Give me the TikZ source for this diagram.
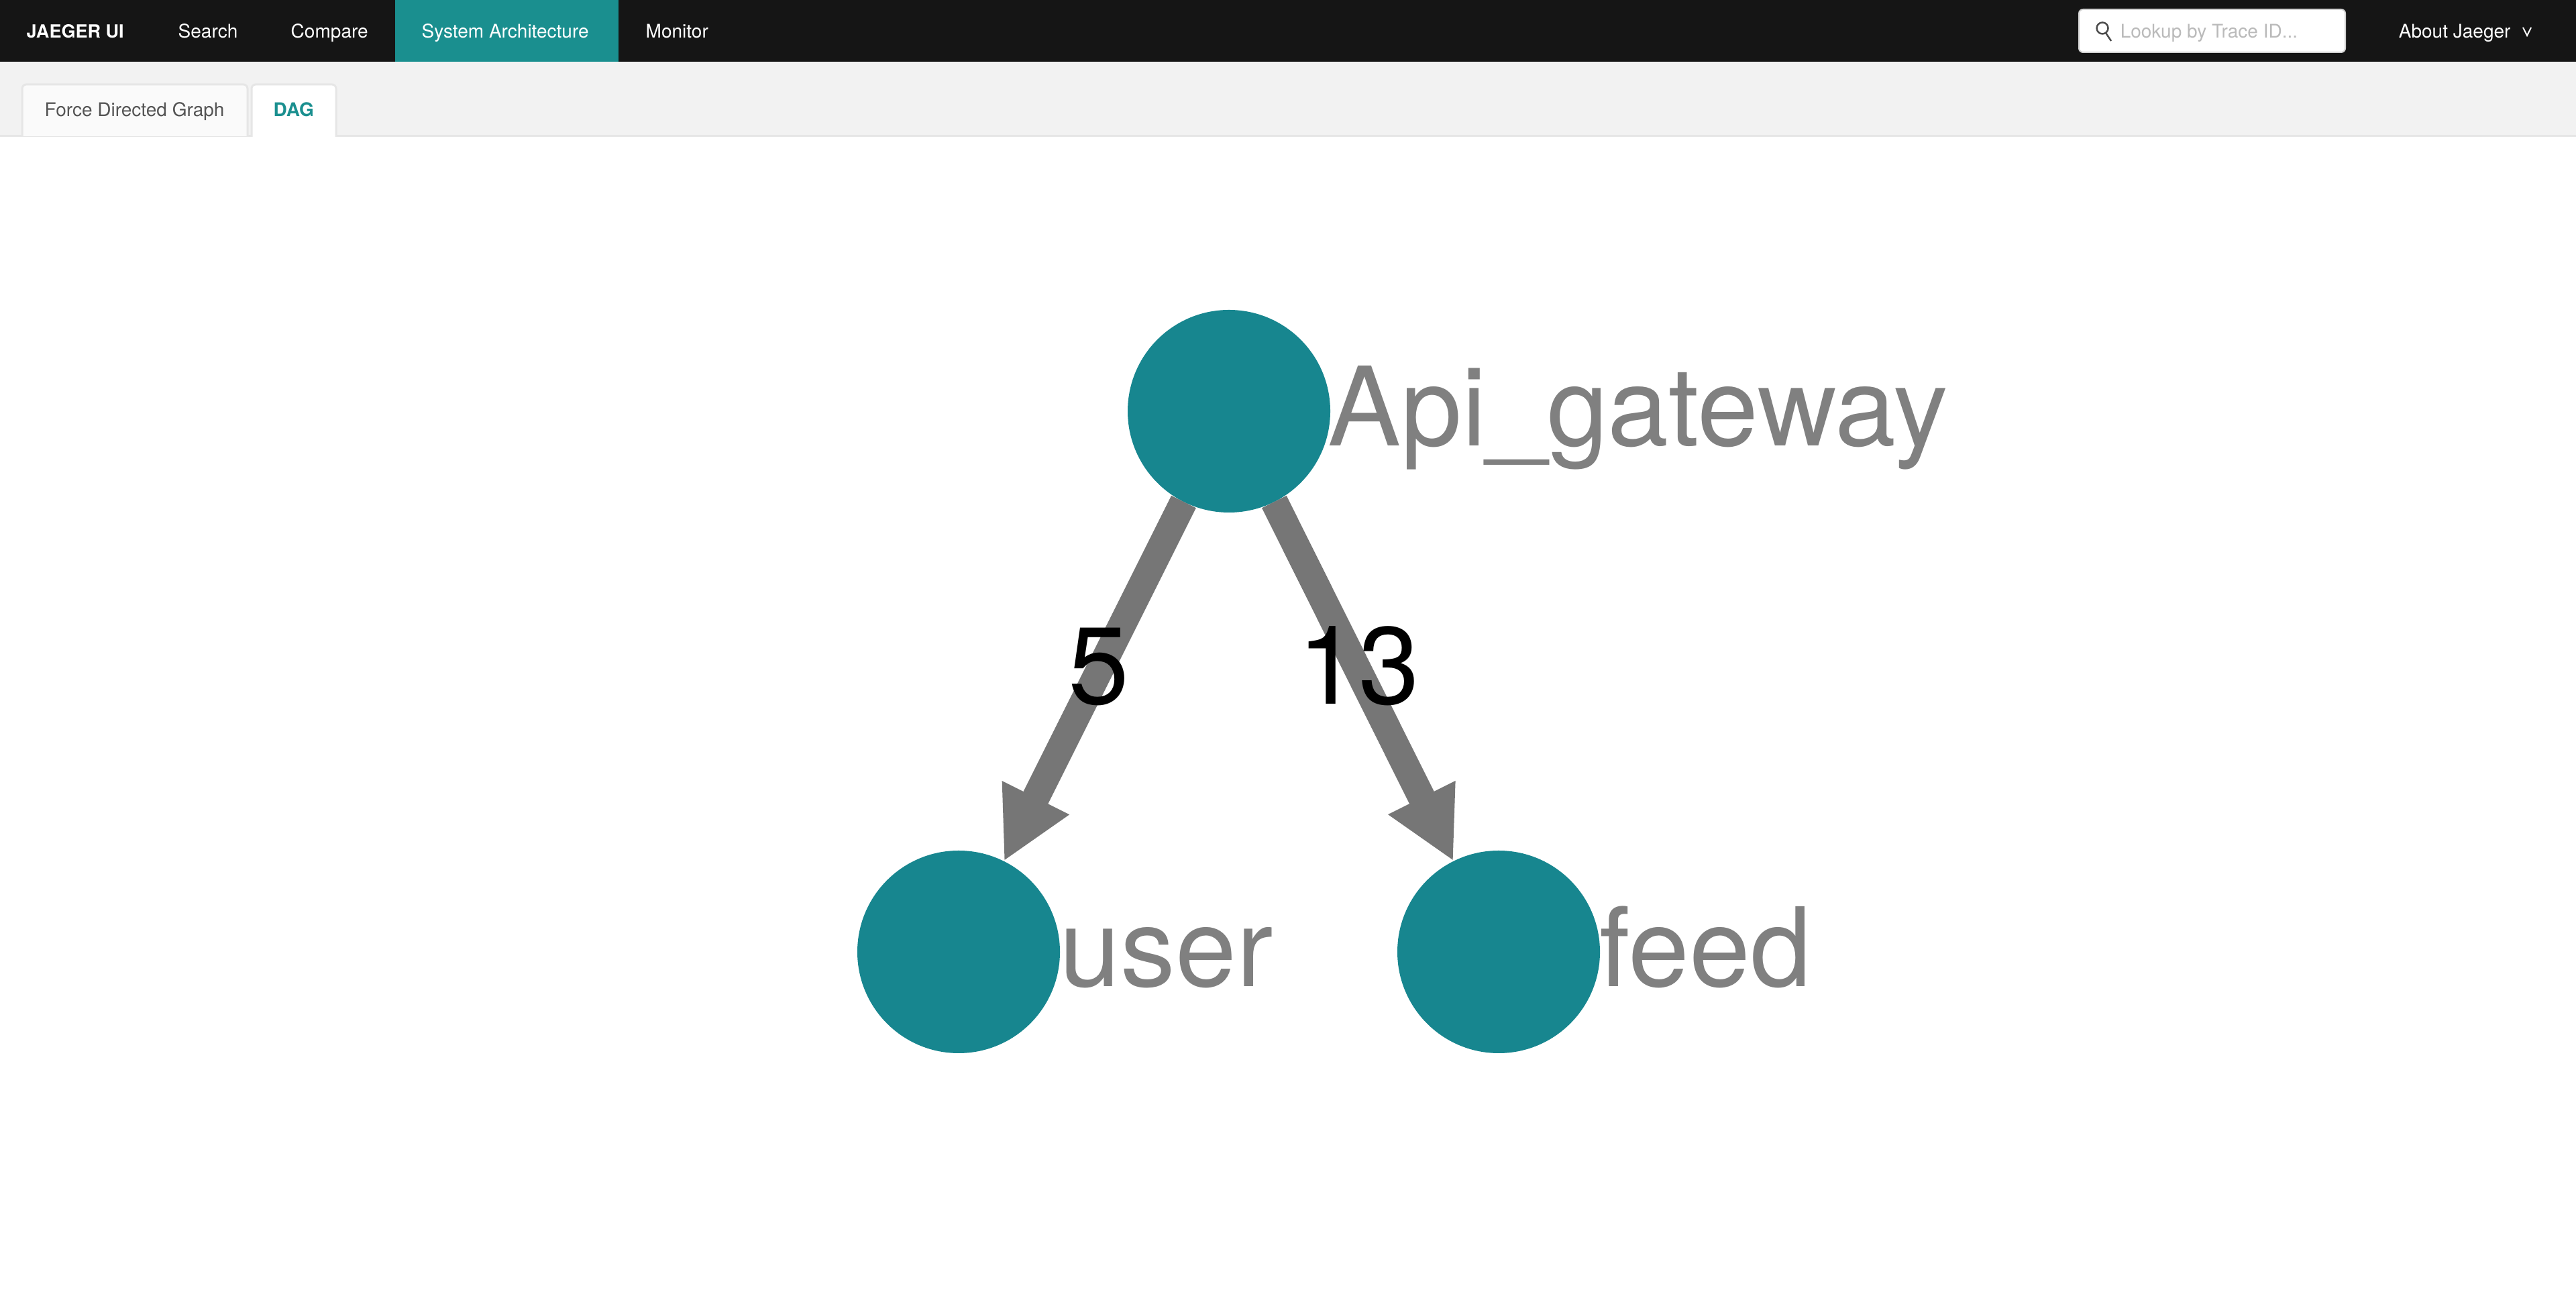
\documentclass[tikz,border=0pt]{standalone}
\usepackage{fontspec}
\setsansfont{TeX Gyre Heros}
\usetikzlibrary{arrows.meta}
\definecolor{JaegerBar}{HTML}{151515}
\definecolor{JaegerTeal}{HTML}{1A8F8F}
\definecolor{JaegerNode}{HTML}{17868F}
\definecolor{JaegerEdge}{HTML}{767676}
\definecolor{JaegerLabel}{HTML}{808080}
\definecolor{JaegerStrip}{HTML}{F2F2F2}
\definecolor{JaegerLine}{HTML}{E6E6E6}

\begin{document}
\begin{tikzpicture}[
  x=1cm,
  y=1cm,
  font=\sffamily,
  navtext/.style={anchor=base west, inner sep=0pt, text=white, font=\sffamily\fontsize{7.97pt}{9pt}\selectfont},
  tabtext/.style={navtext, text=black!67},
  bigtext/.style={anchor=base west, inner sep=0pt, font=\sffamily\fontsize{46.5pt}{50pt}\selectfont},
  service/.style={circle, fill=JaegerNode, inner sep=0pt, outer sep=0pt, minimum size=3.02cm},
  servicelabel/.style={bigtext, text=JaegerLabel},
  weight/.style={bigtext, anchor=base, text=black},
  edgearrow/.style={-{Triangle[length=1.06cm,width=1.04cm]}, line width=0.41cm, draw=JaegerEdge},
  tabbox/.style={draw=JaegerLine, line width=0.03cm, rounded corners=0.06cm}
]
\useasboundingbox (0,0) rectangle (38.4,19.26);
\fill[white] (0,0) rectangle (38.4,19.26);
\fill[JaegerStrip] (0,17.23) rectangle (38.4,18.34);
\draw[JaegerLine, line width=0.03cm] (0,17.23) -- (38.4,17.23);
\fill[JaegerBar] (0,18.34) rectangle (38.4,19.26);
\fill[JaegerTeal] (5.89,18.34) rectangle (9.22,19.26);

\draw[tabbox, fill=black!2] (0.33,17.23) -- (0.33,18.00) -- (3.69,18.00) -- (3.69,17.23);
\draw[tabbox, fill=white] (3.75,17.22) -- (3.75,18.00) -- (5.01,18.00) -- (5.01,17.22);
\fill[white, rounded corners=0.06cm, draw=black!18, line width=0.02cm] (30.99,18.48) rectangle (34.96,19.12);

\node[navtext, font=\sffamily\bfseries\fontsize{7.7pt}{9pt}\selectfont] (brand) at (0.39,18.69) {JAEGER UI};
\node[navtext] (search) at (2.65,18.69) {Search};
\node[navtext] (compare) at (4.33,18.69) {Compare};
\node[navtext] (system) at (6.28,18.69) {System Architecture};
\node[navtext] (monitor) at (9.62,18.69) {Monitor};
\node[navtext, text=black!27] (lookup) at (31.60,18.69) {Lookup by Trace ID...};
\node[navtext] (about) at (35.75,18.69) {About Jaeger};
\node[tabtext] (force) at (0.66,17.52) {Force Directed Graph};
\node[tabtext, text=JaegerTeal, font=\sffamily\bfseries\fontsize{7.97pt}{9pt}\selectfont] (dag) at (4.07,17.52) {DAG};

\draw[black!70, line width=0.025cm] (31.34,18.84) circle (0.085);
\draw[black!70, line width=0.025cm] (31.39,18.77) -- (31.47,18.65);
\draw[white, line width=0.02cm] (37.61,18.85) -- (37.67,18.73) -- (37.73,18.85);

\node[service] (gateway) at (18.32,13.13) {};
\node[service] (user) at (14.29,5.07) {};
\node[service] (feed) at (22.34,5.07) {};

\node[servicelabel] (gatewaylabel) at (19.79,12.61) {Api\_gateway};
\node[servicelabel] (userlabel) at (15.79,4.55) {user};
\node[servicelabel] (feedlabel) at (23.84,4.55) {feed};

\draw[edgearrow] (gateway) -- (user);
\draw[edgearrow] (gateway) -- (feed);

\node[weight] (weightuser) at (16.38,8.76) {5};
\node[weight] (weightfeed) at (20.25,8.76) {13};
\end{tikzpicture}
\end{document}
